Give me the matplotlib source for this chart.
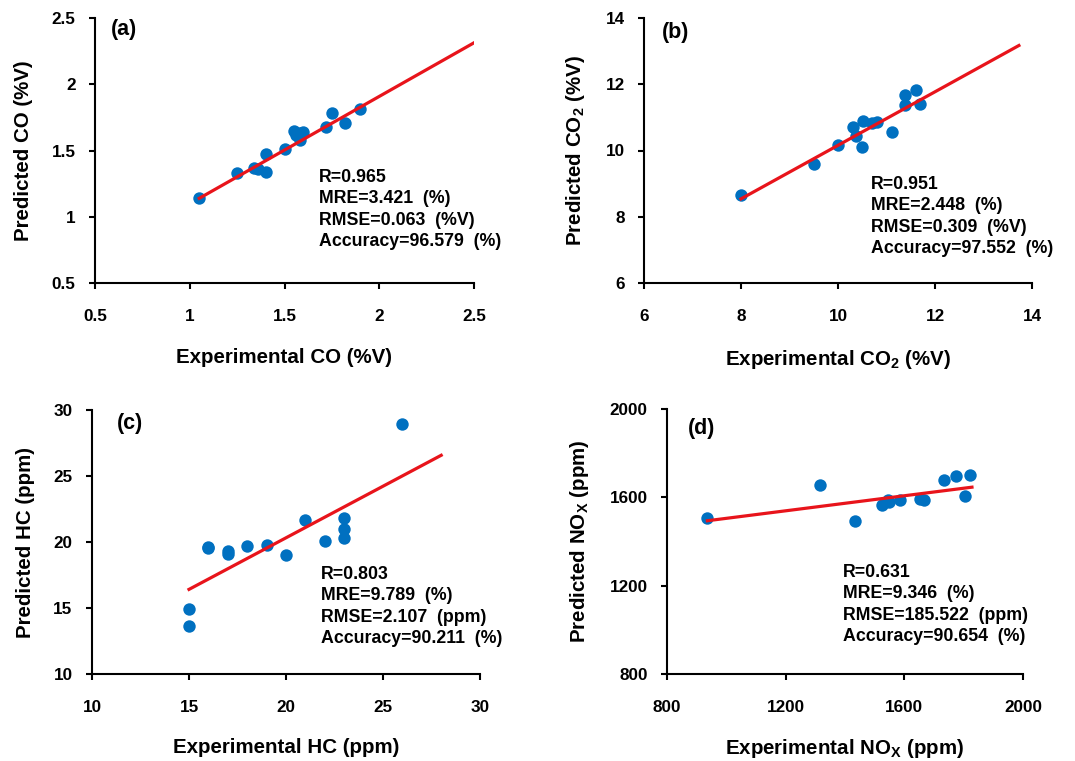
import matplotlib
matplotlib.use('Agg')
import matplotlib.pyplot as plt
import numpy as np

plt.rcParams['font.family'] = ['Liberation Sans', 'DejaVu Sans']
plt.rcParams['font.weight'] = 'bold'
plt.rcParams['mathtext.fontset'] = 'custom'
plt.rcParams['mathtext.rm'] = 'Liberation Sans:bold'
plt.rcParams['mathtext.bf'] = 'Liberation Sans:bold'
plt.rcParams['mathtext.default'] = 'bf'

# (a) CO
co_exp = [1.05, 1.25, 1.34, 1.36, 1.40, 1.40, 1.50, 1.55, 1.56, 1.58, 1.58, 1.60, 1.72, 1.75, 1.82, 1.90]
co_pred = [1.14, 1.33, 1.37, 1.36, 1.47, 1.34, 1.51, 1.65, 1.62, 1.58, 1.63, 1.64, 1.68, 1.78, 1.71, 1.81]
co_fit = [1.139, 2.313]          # fitted line value at start / end
co_fit_x = [1.05, 2.5]

# (b) CO2
co2_exp = [8.0, 9.5, 10.0, 10.3, 10.38, 10.5, 10.52, 10.71, 10.8, 11.12, 11.38, 11.39, 11.6, 11.7]
co2_pred = [8.67, 9.6, 10.17, 10.7, 10.43, 10.12, 10.88, 10.83, 10.85, 10.56, 11.68, 11.38, 11.82, 11.41]
co2_fit = [8.54, 13.17]
co2_fit_x = [8.0, 13.73]

# (c) HC
hc_exp = [15, 15, 16, 16, 17, 17, 18, 19, 20, 21, 22, 23, 23, 23, 26]
hc_pred = [14.95, 13.6, 19.65, 19.55, 19.3, 19.1, 19.7, 19.75, 19.05, 21.65, 20.05, 21.85, 20.95, 20.33, 28.95]
hc_fit = [16.41, 26.57]
hc_fit_x = [15.0, 28.0]

# (d) NOx
nox_exp = [936, 1317, 1433, 1526, 1545, 1547, 1586, 1652, 1666, 1734, 1775, 1803, 1820]
nox_pred = [1505, 1657, 1495, 1566, 1589, 1577, 1589, 1593, 1589, 1680, 1695, 1608, 1702]
nox_fit = [1494, 1646]
nox_fit_x = [936, 1828]

panneaux = [
    dict(x=co_exp, y=co_pred, fx=co_fit_x, fy=co_fit, lim=(0.5, 2.5), ticks=[0.5, 1, 1.5, 2, 2.5],
         labels=['0.5', '1', '1.5', '2', '2.5'],
         xlabel='Experimental CO (%V)', ylabel='Predicted CO (%V)', tag='(a)',
         stats='R=0.965\nMRE=3.421  (%)\nRMSE=0.063  (%V)\nAccuracy=96.579  (%)',
         box=[95, 18, 474, 283], txt=(0.591, 0.43), tagpos=(0.042, 0.958), xlab_y=-0.283),
    dict(x=co2_exp, y=co2_pred, fx=co2_fit_x, fy=co2_fit, lim=(6, 14), ticks=[6, 8, 10, 12, 14],
         labels=['6', '8', '10', '12', '14'],
         xlabel=r'Experimental CO$_{2}$ (%V)', ylabel=r'Predicted CO$_{2}$ (%V)', tag='(b)',
         stats='R=0.951\nMRE=2.448  (%)\nRMSE=0.309  (%V)\nAccuracy=97.552  (%)',
         box=[644, 18, 1032, 283], txt=(0.585, 0.405), tagpos=(0.046, 0.947), xlab_y=-0.29),
    dict(x=hc_exp, y=hc_pred, fx=hc_fit_x, fy=hc_fit, lim=(10, 30), ticks=[10, 15, 20, 25, 30],
         labels=['10', '15', '20', '25', '30'],
         xlabel='Experimental HC (ppm)', ylabel='Predicted HC (ppm)', tag='(c)',
         stats='R=0.803\nMRE=9.789  (%)\nRMSE=2.107  (ppm)\nAccuracy=90.211  (%)',
         box=[92, 410, 480, 674], txt=(0.59, 0.41), tagpos=(0.064, 0.95), xlab_y=-0.28),
    dict(x=nox_exp, y=nox_pred, fx=nox_fit_x, fy=nox_fit, lim=(800, 2000), ticks=[800, 1200, 1600, 2000],
         labels=['800', '1200', '1600', '2000'],
         xlabel=r'Experimental NO$_{X}$ (ppm)', ylabel=r'Predicted NO$_{X}$ (ppm)', tag='(d)',
         stats='R=0.631\nMRE=9.346  (%)\nRMSE=185.522  (ppm)\nAccuracy=90.654  (%)',
         box=[667, 409, 1023, 674], txt=(0.494, 0.415), tagpos=(0.059, 0.928), xlab_y=-0.283),
]

W, H = 1075, 761
fig = plt.figure(figsize=(W / 100, H / 100), dpi=100)

for p in panneaux:
    g, h, d, b = p['box']
    ax = fig.add_axes([g / W, 1 - b / H, (d - g) / W, (b - h) / H])
    ax.scatter(p['x'], p['y'], s=80, color='#0070C0', zorder=2, linewidths=0)
    ax.plot(p['fx'], p['fy'], color='#E8141B', lw=2.3, zorder=3)

    ax.set_xlim(p['lim'])
    ax.set_ylim(p['lim'])
    ax.set_xticks(p['ticks'])
    ax.set_yticks(p['ticks'])
    ax.set_xticklabels(p['labels'])
    ax.set_yticklabels(p['labels'])
    ax.tick_params(axis='both', direction='out', length=4, width=1.5, labelsize=12.3)
    ax.tick_params(axis='x', pad=15)
    ax.tick_params(axis='y', pad=10)

    for cote in ['top', 'right']:
        ax.spines[cote].set_visible(False)
    for cote in ['left', 'bottom']:
        ax.spines[cote].set_linewidth(1.5)

    ax.set_xlabel(p['xlabel'], fontsize=14.8, fontweight='bold', va='center')
    ax.xaxis.set_label_coords(0.5, p['xlab_y'])
    ax.set_ylabel(p['ylabel'], fontsize=14.8, fontweight='bold', labelpad=13)

    ax.text(p['tagpos'][0], p['tagpos'][1], p['tag'], transform=ax.transAxes,
            fontsize=15.5, fontweight='bold', va='center', ha='left')
    ax.text(p['txt'][0], p['txt'][1], p['stats'], transform=ax.transAxes,
            fontsize=12.8, fontweight='bold', va='top', ha='left', linespacing=1.34)

plt.savefig('out.png', dpi=100)
